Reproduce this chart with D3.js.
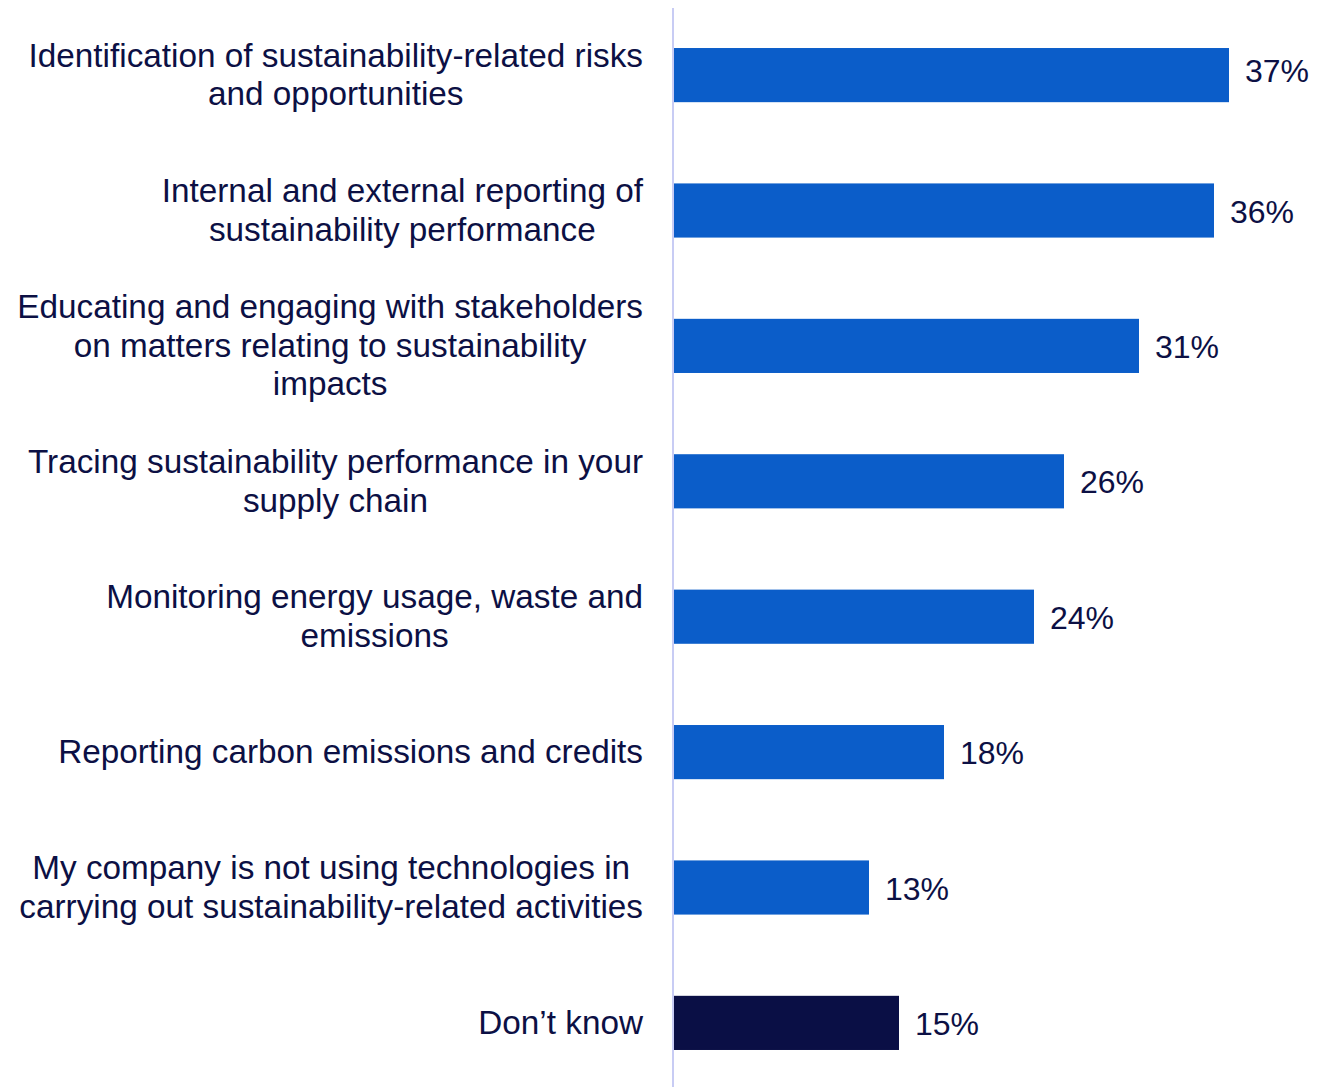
<!DOCTYPE html>
<html>
<head>
<meta charset="utf-8">
<script src="https://cdn.jsdelivr.net/npm/d3@7"></script>
<style>
  html, body { margin: 0; padding: 0; background: #fff; }
  svg { display: block; }
  text { font-family: "Liberation Sans", Arial, sans-serif; fill: #0c1044; }
</style>
</head>
<body>
<svg id="chart" width="1337" height="1087"></svg>
<script>
// Share of respondents by use of technology in sustainability activities
const categories = [
  ["Identification of sustainability-related risks", "and opportunities"],
  ["Internal and external reporting of", "sustainability performance"],
  ["Educating and engaging with stakeholders", "on matters relating to sustainability", "impacts"],
  ["Tracing sustainability performance in your", "supply chain"],
  ["Monitoring energy usage, waste and", "emissions"],
  ["Reporting carbon emissions and credits"],
  ["My company is not using technologies in", "carrying out sustainability-related activities"],
  ["Don\u2019t know"]
];
const values = [37, 36, 31, 26, 24, 18, 13, 15];
const valueLabels = ["37%", "36%", "31%", "26%", "24%", "18%", "13%", "15%"];
const barColors = ["#0b5dc9", "#0b5dc9", "#0b5dc9", "#0b5dc9", "#0b5dc9", "#0b5dc9", "#0b5dc9", "#0a0f45"];

const svg = d3.select("#chart");
const keys = categories.map((c, i) => i);

const y = d3.scaleBand()
  .domain(keys)
  .range([7.4, 1090.6])
  .paddingInner(0.6)
  .paddingOuter(0.3);

const x = d3.scaleLinear()
  .domain([0, 40])
  .range([674, 1274]);

// bars
svg.append("g").selectAll("rect")
  .data(values)
  .join("rect")
  .attr("x", x(0))
  .attr("y", (d, i) => y(i))
  .attr("width", d => x(d) - x(0))
  .attr("height", y.bandwidth())
  .attr("fill", (d, i) => barColors[i]);

// vertical baseline
svg.append("line")
  .attr("x1", 673).attr("x2", 673)
  .attr("y1", 8).attr("y2", 1087)
  .attr("stroke", "#c8ccf4")
  .attr("stroke-width", 2);

// value labels (the top one sits slightly higher so it stays clear of the edge)
svg.append("g").selectAll("text")
  .data(values)
  .join("text")
  .attr("x", d => x(d) + 16)
  .attr("y", (d, i) => y(i) + y.bandwidth() / 2 - (i === 0 ? 5 : 0))
  .attr("dy", "0.38em")
  .style("font-size", "32px")
  .text((d, i) => valueLabels[i]);

// category labels: each line centred within a block right-aligned to the axis
const lineH = 38.5;
const rightEdge = 643;
const labelG = svg.append("g");
categories.forEach((lines, i) => {
  const g = labelG.append("g");
  const cy = y(i) + y.bandwidth() / 2;
  const texts = lines.map((ln, j) =>
    g.append("text")
      .attr("y", cy + (j - (lines.length - 1) / 2) * lineH - 1)
      .attr("dy", "0.36em")
      .attr("text-anchor", "middle")
      .style("font-size", "33.3px")
      .text(ln)
  );
  const maxW = d3.max(texts, t => t.node().getComputedTextLength());
  texts.forEach(t => t.attr("x", rightEdge - maxW / 2));
});
</script>
</body>
</html>
